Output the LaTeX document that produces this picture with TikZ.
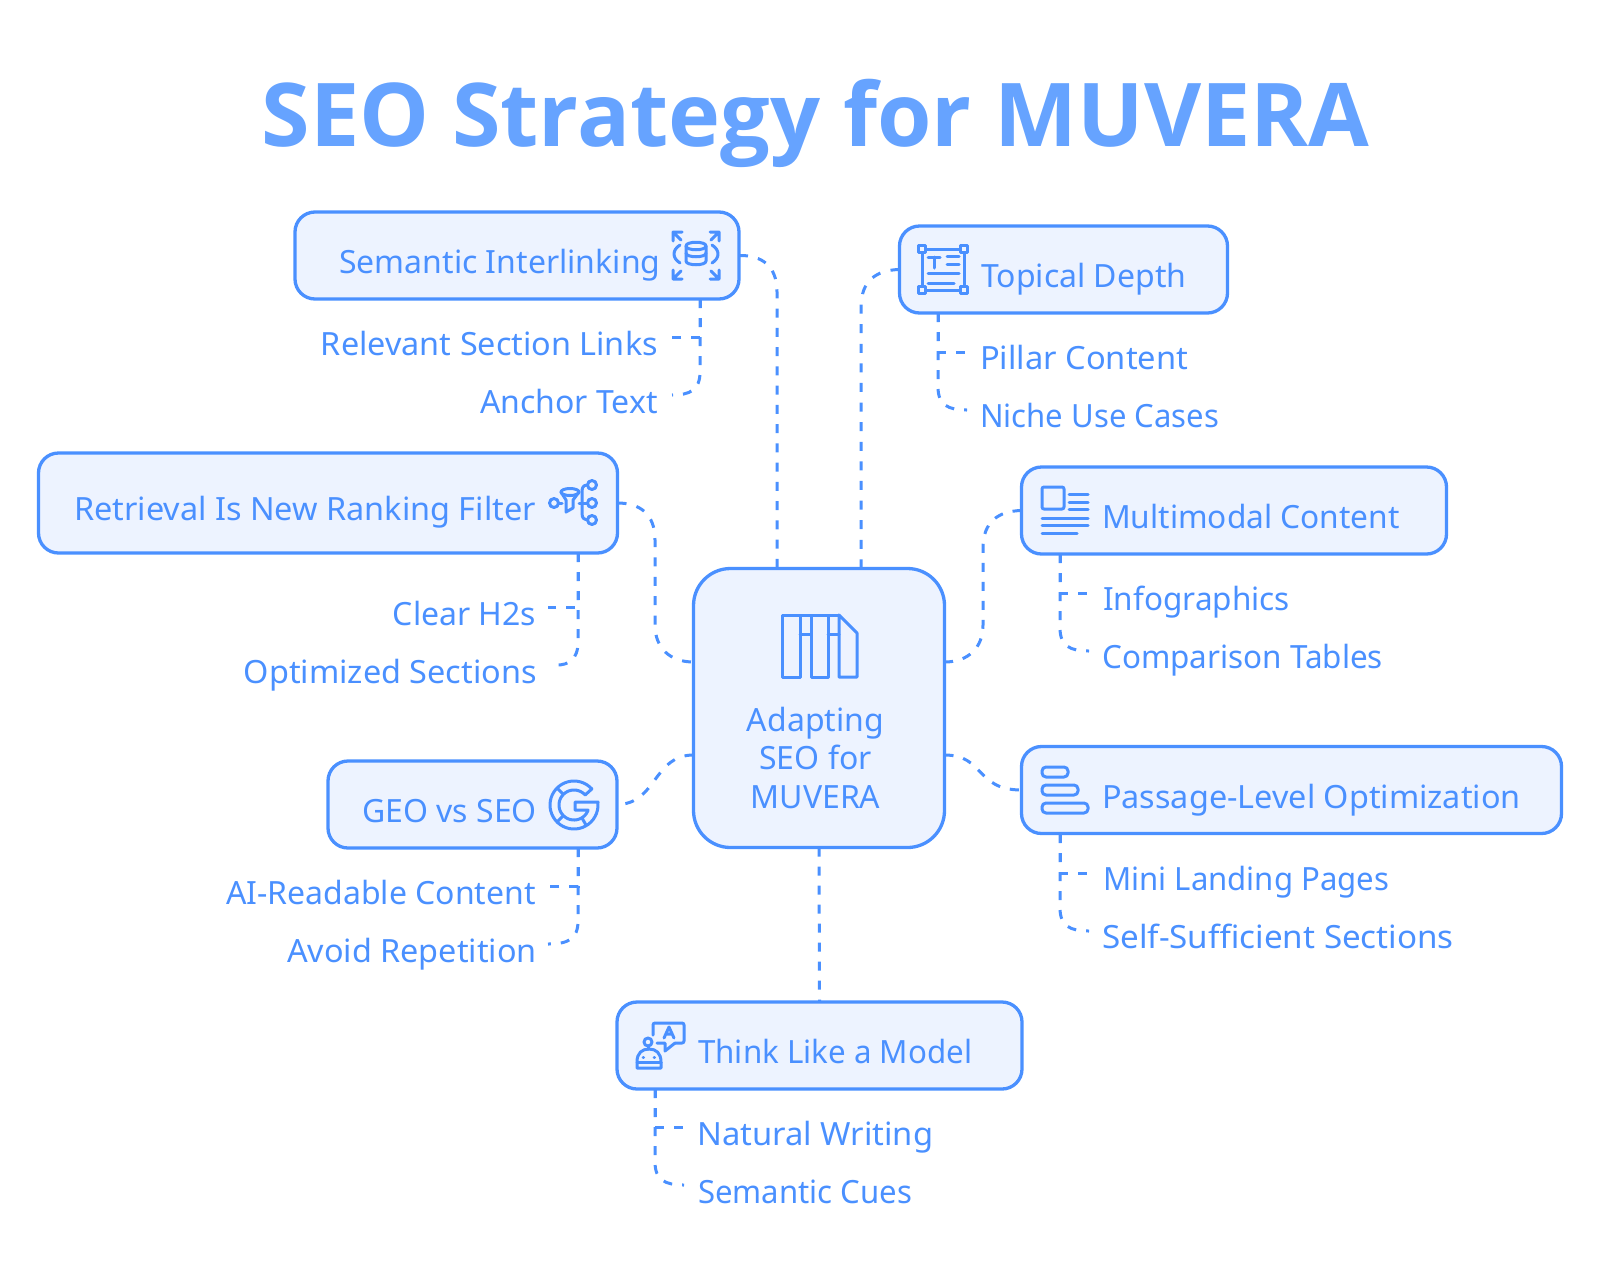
\documentclass[tikz,border=0pt]{standalone}
\usepackage{graphicx}
\usepackage{fontspec}
\setmainfont{Noto Sans}
\newfontfamily\ttlfont{Open Sans}
\usetikzlibrary{calc}
\definecolor{ln}{HTML}{4A90FF}
\definecolor{bg}{HTML}{EDF3FF}
\definecolor{ttl}{HTML}{66A3FF}
\newcommand{\sx}[2]{\scalebox{#1}[1]{#2}}
\tikzset{
  x=1pt,y=-1pt,
  box/.style={draw=ln,fill=bg,line width=3.3pt,rounded corners=20pt,inner sep=0pt,outer sep=0pt},
  lbl/.style={text=ln,inner sep=0pt,font=\fontsize{32}{38}\selectfont},
  dashline/.style={draw=ln,line width=3pt,dash pattern=on 9pt off 10pt},
  ico/.style={draw=ln,line width=3pt,line cap=round,line join=round,fill=none},
}
\newcommand{\boxat}[5]{\node[box,minimum width=#4pt,minimum height=#5pt] (#1) at (#2,#3) {};}
\begin{document}
\begin{tikzpicture}
\useasboundingbox (0,0) rectangle (1600,1283);
\node[anchor=base,inner sep=0pt,text=ttl,font=\fontsize{88}{100}\selectfont\ttlfont\bfseries] (title) at (815.5,146) {SEO Strategy for MUVERA};
% boxes
\boxat{sem}{517}{255.5}{444}{87}
\boxat{top}{1063.5}{269.5}{328}{87}
\boxat{ret}{328}{503}{579}{100}
\boxat{mul}{1234}{510.5}{425}{87}
\boxat{pas}{1291.5}{790}{540}{87}
\boxat{geo}{472.5}{804.5}{289}{87}
\boxat{thi}{819.5}{1045.5}{405}{87}
\node[box,rounded corners=37pt,minimum width=251pt,minimum height=279pt] (cen) at (819,708) {};
% box labels
\node[lbl,anchor=base west] (semT) at (339,273.5) {Semantic Interlinking};
\node[lbl,anchor=base west] (topT) at (981,287.5) {Topical Depth};
\node[lbl,anchor=base east] (retT) at (536,520.5) {\sx{1.013}{Retrieval Is New Ranking Filter}};
\node[lbl,anchor=base west] (mulT) at (1102,528.5) {\sx{0.99}{Multimodal Content}};
\node[lbl,anchor=base west] (pasT) at (1102,808.5) {\sx{1.012}{Passage-Level Optimization}};
\node[lbl,anchor=base east] (geoT) at (537,822.5) {GEO vs SEO};
\node[lbl,anchor=base west] (thiT) at (698,1063.5) {\sx{0.978}{Think Like a Model}};
\node[lbl,anchor=base] (c1) at (815.5,731.5) {Adapting};
\node[lbl,anchor=base] (c2) at (815.5,769.5) {SEO for};
\node[lbl,anchor=base] (c3) at (815.5,808.5) {MUVERA};
% sub labels
\node[lbl,anchor=base east] (s1) at (658,355.5) {\sx{1.012}{Relevant Section Links}};
\node[lbl,anchor=base east] (s2) at (658,413.5) {Anchor Text};
\node[lbl,anchor=base west] (t1) at (980,369.5) {\sx{1.02}{Pillar Content}};
\node[lbl,anchor=base west] (t2) at (980,427.5) {\sx{0.97}{Niche Use Cases}};
\node[lbl,anchor=base east] (r1) at (536.5,625.5) {Clear H2s};
\node[lbl,anchor=base east] (r2) at (537,683.5) {\sx{1.014}{Optimized Sections}};
\node[lbl,anchor=base west] (m1) at (1103,610.5) {\sx{0.984}{Infographics}};
\node[lbl,anchor=base west] (m2) at (1102,668.5) {\sx{0.982}{Comparison Tables}};
\node[lbl,anchor=base west] (p1) at (1103,890.5) {\sx{0.972}{Mini Landing Pages}};
\node[lbl,anchor=base west] (p2) at (1102,948.5) {\sx{1.036}{Self-Sufficient Sections}};
\node[lbl,anchor=base east] (g1) at (536,904.5) {AI-Readable Content};
\node[lbl,anchor=base east] (g2) at (537,962.5) {\sx{1.012}{Avoid Repetition}};
\node[lbl,anchor=base west] (h1) at (697,1145.5) {\sx{1.022}{Natural Writing}};
\node[lbl,anchor=base west] (h2) at (698,1203.5) {\sx{0.972}{Semantic Cues}};
% anchors on centre box
\coordinate (cTa) at (777,568.5);
\coordinate (cTb) at (861,568.5);
\coordinate (cLa) at (693.5,662);
\coordinate (cLb) at (693.5,755);
\coordinate (cRa) at (944.5,662);
\coordinate (cRb) at (944.5,755);
% main connectors
\draw[dashline,dash pattern=on 9pt off 10.25pt] (sem.east) .. controls (762,255) and (777,266) .. (777,292) -- (cTa);
\draw[dashline,dash pattern=on 9pt off 10.6pt] (top.west) .. controls (876,270) and (861,281) .. (861,307) -- (cTb);
\draw[dashline,dash pattern=on 9pt off 10.4pt] (ret.east) .. controls (640,503) and (655,514) .. (655,540) -- (655,625) .. controls (655,648) and (670,662) .. (cLa);
\draw[dashline] (mul.west) .. controls (998,511) and (983,522) .. (983,548) -- (983,625) .. controls (983,648) and (968,662) .. (cRa);
\draw[dashline] (cRb) .. controls (985,755) and (975,790) .. (pas.west);
\draw[dashline,dash pattern=on 9pt off 10.5pt] (cLb) .. controls (653,755) and (657,804) .. (geo.east);
\draw[dashline] (cen.south) -- (thi.north);
% child connectors
\coordinate (semB) at (700,299);
\coordinate (topB) at (938,313);
\coordinate (retB) at (578,553);
\coordinate (mulB) at (1060,554);
\coordinate (pasB) at (1060,834);
\coordinate (geoB) at (578,848);
\coordinate (thiB) at (655,1089);
\coordinate (e1) at (672,337); \coordinate (e2) at (672,395);
\draw[dashline] (semB) |- (e1);
\draw[dashline] (semB) -- (700,372) .. controls (700,390) and (690,395) .. (e2);
\coordinate (e3) at (967,352); \coordinate (e4) at (967,410);
\draw[dashline] (topB) |- (e3);
\draw[dashline] (topB) -- (938,387) .. controls (938,405) and (948,410) .. (e4);
\coordinate (e5) at (548,607); \coordinate (e6) at (557,665);
\draw[dashline] (retB) |- (e5);
\draw[dashline] (retB) -- (578,642) .. controls (578,660) and (568,665) .. (e6);
\coordinate (e7) at (1089,593); \coordinate (e8) at (1089,651);
\draw[dashline] (mulB) |- (e7);
\draw[dashline] (mulB) -- (1060,628) .. controls (1060,646) and (1070,651) .. (e8);
\coordinate (e9) at (1089,873); \coordinate (e10) at (1089,931);
\draw[dashline] (pasB) |- (e9);
\draw[dashline] (pasB) -- (1060,908) .. controls (1060,926) and (1070,931) .. (e10);
\coordinate (e11) at (548,886); \coordinate (e12) at (548,944);
\draw[dashline] (geoB) |- (e11);
\draw[dashline] (geoB) -- (578,921) .. controls (578,939) and (568,944) .. (e12);
\coordinate (e13) at (684,1127); \coordinate (e14) at (684,1185);
\draw[dashline] (thiB) |- (e13);
\draw[dashline] (thiB) -- (655,1162) .. controls (655,1180) and (665,1185) .. (e14);
% --- icons ---
% centre
\draw[ico] (782,615) rectangle (800,677);
\draw[ico] (811,615) rectangle (828,677);
\draw[ico] (839,615) -- (857,633) -- (857,677) -- (839,677) -- cycle;
\draw[ico] (800,615) -- (839,615) (800,634) -- (811,634) (828,634) -- (839,634);
% semantic
\draw[ico] (673,241) -- (673,232) -- (682,232) (673,232) -- (681,240);
\draw[ico] (719,241) -- (719,232) -- (710,232) (719,232) -- (711,240);
\draw[ico] (673,270) -- (673,279) -- (682,279) (673,279) -- (681,271);
\draw[ico] (719,270) -- (719,279) -- (710,279) (719,279) -- (711,271);
\draw[ico] (686,246) .. controls (686,241) and (706,241) .. (706,246) (686,246) .. controls (686,251) and (706,251) .. (706,246);
\draw[ico] (686,253) .. controls (686,258) and (706,258) .. (706,253);
\draw[ico] (686,246) -- (686,261) .. controls (686,266) and (706,266) .. (706,261) -- (706,246);
\draw[ico] (680,245) .. controls (672,250) and (672,258) .. (680,263);
\draw[ico] (712,245) .. controls (720,250) and (720,258) .. (712,263);
% topical
\draw[ico] (922,249) rectangle (964,290);
\foreach \px/\py in {922/249,964/249,922/290,964/290}{\draw[ico,fill=bg] (\px-3.5,\py-3.5) rectangle (\px+3.5,\py+3.5);}
\draw[ico] (928,257) -- (940,257) (934,257) -- (934,268);
\draw[ico] (947,256) -- (959,256) (947,264) -- (959,264) (928,273) -- (959,273) (928,283) -- (954,283);
% retrieval
\draw[ico] (554,503) circle [radius=4.5pt];
\draw[ico] (592,485) circle [radius=4.5pt] (592,503) circle [radius=4.5pt] (592,520) circle [radius=4.5pt];
\draw[ico] (570,492) ellipse [x radius=9pt,y radius=3.5pt];
\draw[ico] (561,492) -- (566,500) -- (566,512) -- (573,508) -- (573,500) -- (579,492);
\draw[ico] (587,485) .. controls (582,485) and (582,490) .. (582,492) -- (582,513) .. controls (582,518) and (584,520) .. (587,520);
\draw[ico] (579,503) -- (587,503);
\draw[ico] (559,503) -- (562,503);
% geo G
\draw[ico] plot[smooth,domain=0:313,samples=40] ({574+24*cos(42+\x)},{805-24*sin(42+\x)})
  -- (598,802) -- (575,802) -- (575,810) -- (587,810)
  -- plot[smooth,domain=0:298,samples=40] ({574+15*cos(-20-\x)},{805-15*sin(-20-\x)}) -- cycle;
\draw[ico] (557,788) -- (563,794) (557,822) -- (563,816) (586,825) -- (582,818);
% multimodal
\draw[ico,rounded corners=2pt] (1042,487) rectangle (1064,509);
\draw[ico] (1069,494) -- (1088,494) (1069,502) -- (1088,502) (1069,509) -- (1088,509) (1042,518) -- (1088,518) (1042,525) -- (1088,525) (1042,533) -- (1077,533);
% passage
\draw[ico,rounded corners=4pt] (1042,767) rectangle (1068,777);
\draw[ico,rounded corners=4pt] (1042,785) rectangle (1078,795);
\draw[ico,rounded corners=4pt] (1042,803) rectangle (1088,813);
% think
\draw[ico,rounded corners=2pt] (653,1035) -- (653,1023) -- (684,1023) -- (684,1043) -- (675,1043);
\draw[ico] (675,1043) -- (665,1051) -- (665,1043) -- (657,1043);
\draw[ico] (664,1038) -- (669,1027) -- (674,1038) (666,1034) -- (672,1034);
\draw[ico] (648,1042) circle [radius=4pt];
\draw[ico] (648,1046) -- (648,1049);
\draw[ico] (637,1062) .. controls (637,1053) and (642,1049) .. (649,1049) .. controls (656,1049) and (661,1053) .. (661,1062) -- (661,1068) -- (637,1068) -- cycle;
\draw[ico] (637,1062) -- (661,1062);
\draw[ico] (643,1057) -- (643.5,1057) (654,1057) -- (654.5,1057);
\end{tikzpicture}
\end{document}
